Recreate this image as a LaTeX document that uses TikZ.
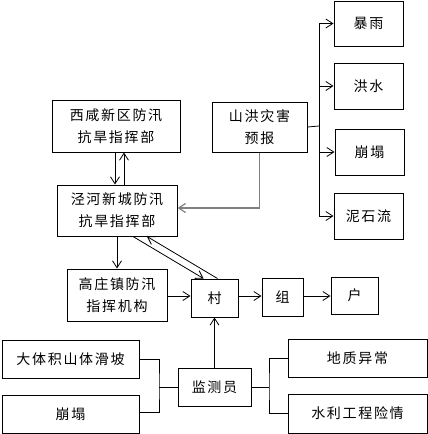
\documentclass[tikz,border=0pt]{standalone}
\usepackage{fontspec}
\newfontfamily\cjk[LetterSpace=12]{Noto Sans CJK SC}
\usepackage{xcolor}
\definecolor{lineGray}{HTML}{808080}
\usepackage{tikz}
\usetikzlibrary{
    arrows.meta,
    positioning,
    calc
}
\tikzset{
    % Base style for all boxes
    box/.style={
        draw=black,
        line width=1pt,
        rectangle,
        align=center,
        inner sep=0pt,
        font=\cjk\fontsize{14}{22}\selectfont,
    },
    % Open arrow heads
    arrow/.style={
        -{Straight Barb[length=7pt, width=9pt]},
        line width=0.8pt,
        draw=black,
    },
    % Plain joining lines
    joint/.style={
        line width=0.8pt,
        draw=black,
    },
}

\begin{document}
\begin{tikzpicture}[x=1pt, y=-1pt]
    \useasboundingbox (0,0) rectangle (428,434);

    % command chain
    \node (xixian) [box, minimum width=128pt, minimum height=52pt] at (116,126) {西咸新区防汛\\抗旱指挥部};
    \node (shanhong) [box, minimum width=95pt, minimum height=50pt] at (259.5,127) {山洪灾害\\预报};
    \node (jinghe) [box, minimum width=120pt, minimum height=51pt] at (117,210.5) {泾河新城防汛\\抗旱指挥部};
    \node (gaozhuang) [box, minimum width=100pt, minimum height=52pt] at (117,295) {高庄镇防汛\\指挥机构};
    \node (cun) [box, minimum width=47pt, minimum height=38pt] at (214.5,298) {村};
    \node (zu) [box, minimum width=41pt, minimum height=38pt] at (282.5,297) {组};
    \node (hu) [box, minimum width=47pt, minimum height=37pt] at (354.5,295.5) {户};

    % forecast types
    \node (baoyu) [box, minimum width=69pt, minimum height=45pt] at (368.5,23.5) {暴雨};
    \node (hongshui) [box, minimum width=69pt, minimum height=46pt] at (368.5,86) {洪水};
    \node (bengta) [box, minimum width=69pt, minimum height=46pt] at (369.5,152) {崩塌};
    \node (nishiliu) [box, minimum width=69pt, minimum height=46pt] at (368.5,216) {泥石流};

    % monitoring
    \node (jiance) [box, minimum width=73pt, minimum height=38pt] at (214.5,387) {监测员};
    \node (huapo) [box, minimum width=137pt, minimum height=38pt] at (70.5,359) {大体积山体滑坡};
    \node (bengtaB) [box, minimum width=137pt, minimum height=38pt] at (70.5,414) {崩塌};
    \node (dizhi) [box, minimum width=139pt, minimum height=38pt] at (357.5,358) {地质异常};
    \node (shuili) [box, minimum width=139pt, minimum height=39pt] at (357.5,413.5) {水利工程险情};

    \coordinate (fork) at (319,126);
    \coordinate (lfork) at (159,387);
    \coordinate (rfork) at (269,387);

    \draw [arrow] ([xshift=-1pt]xixian.south) -- ([xshift=-1pt]xixian.south |- jinghe.north);
    \draw [arrow] ([xshift=8pt]xixian.south |- jinghe.north) -- ([xshift=8pt]xixian.south);
    \draw [arrow, draw=lineGray, line width=1.2pt] (shanhong.south) |- ([yshift=2.5pt]jinghe.east);
    \draw [arrow] (jinghe.south) -- (gaozhuang.north);
    \draw [arrow] ([xshift=16pt]jinghe.south) -- ([xshift=-11pt]cun.north);
    \draw [arrow] ([xshift=3pt]cun.north) -- ([xshift=30pt]jinghe.south);
    \draw [arrow] ([yshift=-1pt]gaozhuang.east) -- ([yshift=-1pt]gaozhuang.east -| cun.west);
    \draw [arrow] ([yshift=2pt]cun.east) -- ([yshift=2pt]cun.east -| zu.west);
    \draw [arrow] ([yshift=1pt]zu.east) -- ([yshift=1pt]zu.east -| hu.west);

    \draw [joint] (shanhong.east) -- (fork);
    \draw [arrow] (fork) |- (baoyu.west);
    \draw [arrow] (fork) |- (hongshui.west);
    \draw [arrow] (fork) |- (bengta.west);
    \draw [arrow] (fork) |- (nishiliu.west);

    \draw [arrow] (jiance.north) -- (jiance.north |- cun.south);
    \draw [joint] (huapo.east) -| (lfork) |- ([yshift=2pt]bengtaB.east);
    \draw [joint] (lfork) -- (jiance.west);
    \draw [joint] (jiance.east) -- (rfork);
    \draw [joint] (dizhi.west) -| (rfork) |- (shuili.west);
\end{tikzpicture}
\end{document}
